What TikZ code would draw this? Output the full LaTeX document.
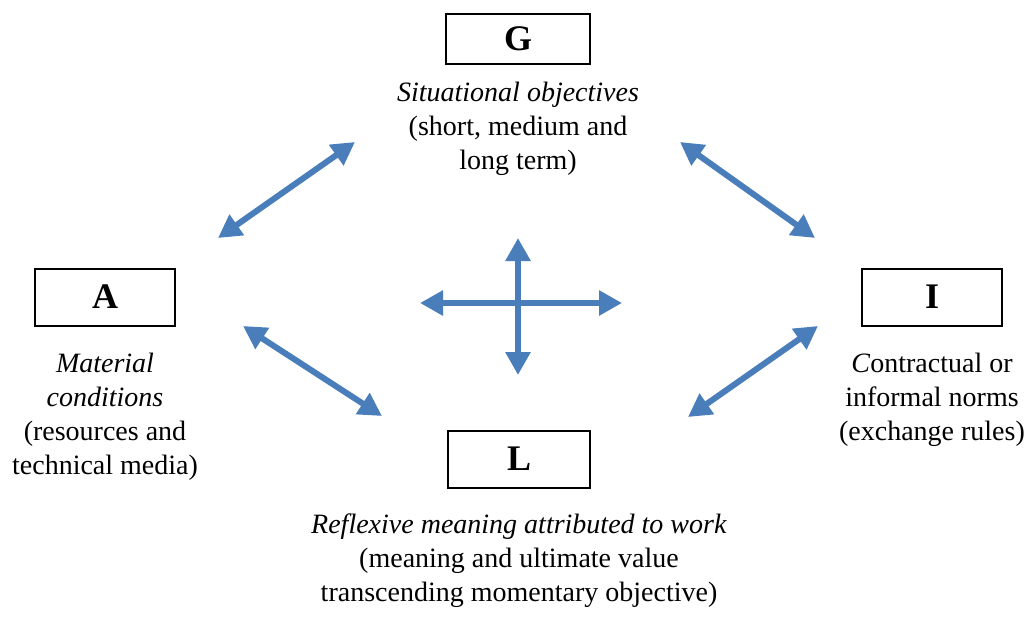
\documentclass[tikz,border=0pt]{standalone}
\usepackage{fontspec}
\setmainfont{Liberation Serif}
\usetikzlibrary{arrows.meta}
\definecolor{arrowBlue}{RGB}{74,126,187}
\tikzset{
    letterBox/.style={draw,line width=1pt,minimum width=70pt,minimum height=28.5pt,inner sep=0pt,font=\fontsize{18}{21}\selectfont\bfseries},
    caption/.style={align=center,inner sep=0pt,font=\fontsize{14}{17}\selectfont},
    twoWay/.style={arrowBlue,line width=3pt,{Triangle[width=12pt,length=11.5pt]}-{Triangle[width=12pt,length=11.5pt]}}
}

\begin{document}
\begin{tikzpicture}[x=0.5pt,y=-0.5pt]
    \useasboundingbox (0,0) rectangle (1033,616);
    \node[letterBox,minimum width=72pt,minimum height=25pt] (G) at (518,39) {G};
    \node[letterBox] (A) at (105,297) {A};
    \node[letterBox] (I) at (932,297) {I};
    \node[letterBox,minimum width=71pt] (L) at (519,459) {L};
    \node[caption] (Gtext) at (518,129) {\textit{Situational objectives}\\(short, medium and\\long term)};
    \node[caption] (Atext) at (105,417) {\textit{Material}\\\textit{conditions}\\(resources and\\technical media)};
    \node[caption] (Itext) at (932,400) {\textit{C}ontractual or\\informal norms\\(exchange rules)};
    \node[caption] (Ltext) at (519,561) {\textit{Reflexive meaning attributed to work}\\(meaning and ultimate value\\transcending momentary objective)};
    \coordinate (ga) at (218,238);
    \coordinate (ag) at (355,142);
    \coordinate (gi) at (680,142);
    \coordinate (ig) at (815,238);
    \coordinate (al) at (243,326);
    \coordinate (la) at (382,416);
    \coordinate (il) at (818,326);
    \coordinate (li) at (688,417);
    \coordinate (west) at (420,303);
    \coordinate (east) at (622,303);
    \coordinate (north) at (518,238);
    \coordinate (south) at (518,375);
    \draw[twoWay] (ga) -- (ag);
    \draw[twoWay] (gi) -- (ig);
    \draw[twoWay] (al) -- (la);
    \draw[twoWay] (il) -- (li);
    \draw[twoWay] (west) -- (east);
    \draw[twoWay] (north) -- (south);
\end{tikzpicture}
\end{document}
